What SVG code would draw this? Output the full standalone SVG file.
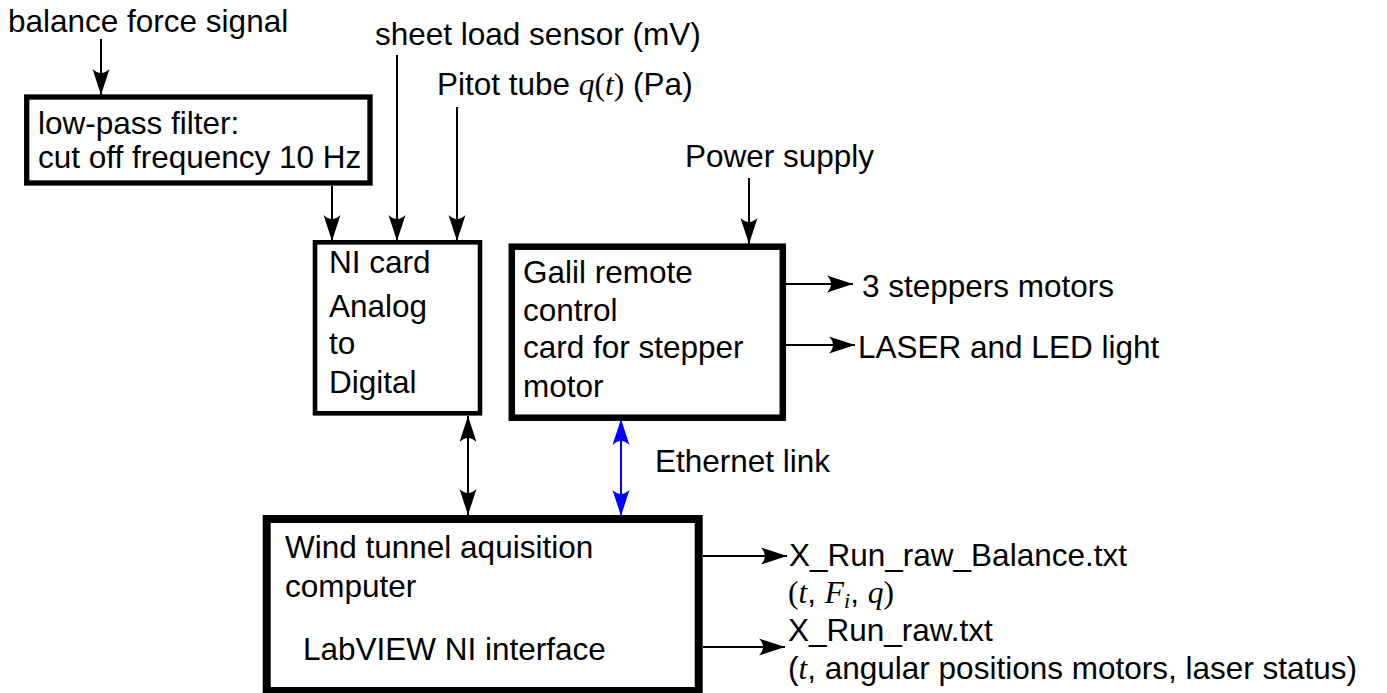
<svg xmlns="http://www.w3.org/2000/svg" width="1387" height="693" viewBox="0 0 1387 693">
<defs>
<style>
.t{font-family:"Liberation Sans",Arial,sans-serif;font-size:31.5px;fill:#000}
.m{font-family:"Liberation Serif","Times New Roman",serif;font-style:italic}
.mu{font-family:"Liberation Serif","Times New Roman",serif;font-style:normal}
.box{fill:#fff;stroke:#000}
.c{fill:none;stroke:#000;stroke-width:2}
.cb{fill:none;stroke:#0000ff;stroke-width:2}
</style>
<marker id="ah" viewBox="-28 -10 30 20" refX="0" refY="0" markerWidth="30" markerHeight="20" markerUnits="userSpaceOnUse" orient="auto-start-reverse">
<path d="M0,0 L-26,-8.5 Q-18,0 -26,8.5 Z" fill="#000"/>
</marker>
<marker id="ahb" viewBox="-28 -10 30 20" refX="0" refY="0" markerWidth="30" markerHeight="20" markerUnits="userSpaceOnUse" orient="auto-start-reverse">
<path d="M0,0 L-26,-8.5 Q-18,0 -26,8.5 Z" fill="#0000ff"/>
</marker>
</defs>
<rect width="1387" height="693" fill="#fff"/>

<g id="connectors">
<line class="c" x1="101" y1="39" x2="101" y2="95" marker-end="url(#ah)"/>
<line class="c" x1="332" y1="186" x2="332" y2="241" marker-end="url(#ah)"/>
<line class="c" x1="397" y1="55" x2="397" y2="241" marker-end="url(#ah)"/>
<line class="c" x1="457" y1="107" x2="457" y2="241" marker-end="url(#ah)"/>
<line class="c" x1="749" y1="178" x2="749" y2="244" marker-end="url(#ah)"/>
<line class="c" x1="786" y1="284" x2="853" y2="284" marker-end="url(#ah)"/>
<line class="c" x1="786" y1="345" x2="855" y2="345" marker-end="url(#ah)"/>
<line class="c" x1="468" y1="416" x2="468" y2="515" marker-start="url(#ah)" marker-end="url(#ah)"/>
<line class="cb" x1="621" y1="419" x2="621" y2="516" marker-start="url(#ahb)" marker-end="url(#ahb)"/>
<line class="c" x1="703" y1="556" x2="787" y2="556" marker-end="url(#ah)"/>
<line class="c" x1="703" y1="647" x2="785" y2="647" marker-end="url(#ah)"/>
</g>

<g id="filter">
<rect class="box" x="26.7" y="97" width="343.3" height="86" stroke-width="5.3"/>
<text class="t" x="38" y="134">low-pass filter:</text>
<text class="t" x="38" y="168">cut off frequency 10 Hz</text>
</g>

<g id="nicard">
<rect class="box" x="315" y="242.3" width="165" height="171" stroke-width="4.6"/>
<text class="t" x="329" y="273">NI card</text>
<text class="t" x="329" y="317">Analog</text>
<text class="t" x="329" y="354">to</text>
<text class="t" x="329" y="393">Digital</text>
</g>

<g id="galil">
<rect class="box" x="511.8" y="246.7" width="271" height="171" stroke-width="6.5"/>
<text class="t" x="523" y="283">Galil remote</text>
<text class="t" x="523" y="321">control</text>
<text class="t" x="523" y="358">card for stepper</text>
<text class="t" x="523" y="397">motor</text>
</g>

<g id="computer">
<rect class="box" x="266.7" y="519" width="432" height="172" stroke-width="8"/>
<text class="t" x="285" y="558">Wind tunnel aquisition</text>
<text class="t" x="285" y="597">computer</text>
<text class="t" x="303" y="660">LabVIEW NI interface</text>
</g>

<g id="labels">
<text class="t" x="8" y="32">balance force signal</text>
<text class="t" x="375" y="45">sheet load sensor (mV)</text>
<text class="t" x="437" y="95">Pitot tube <tspan class="m">q</tspan><tspan class="mu">(</tspan><tspan class="m">t</tspan><tspan class="mu">)</tspan> (Pa)</text>
<text class="t" x="685" y="167">Power supply</text>
<text class="t" x="862" y="297">3 steppers motors</text>
<text class="t" x="858" y="358">LASER and LED light</text>
<text class="t" x="655" y="472">Ethernet link</text>
<text class="t" x="789" y="566">X_Run_raw_Balance.txt</text>
<text class="t" x="788" y="603"><tspan class="mu">(</tspan><tspan class="m">t</tspan>, <tspan class="m">F</tspan><tspan class="m" font-size="22" dy="5">i</tspan><tspan dy="-5">, </tspan><tspan class="m">q</tspan><tspan class="mu">)</tspan></text>
<text class="t" x="788" y="641">X_Run_raw.txt</text>
<text class="t" x="788" y="679">(<tspan class="m">t</tspan>, angular positions motors, laser status)</text>
</g>
</svg>
